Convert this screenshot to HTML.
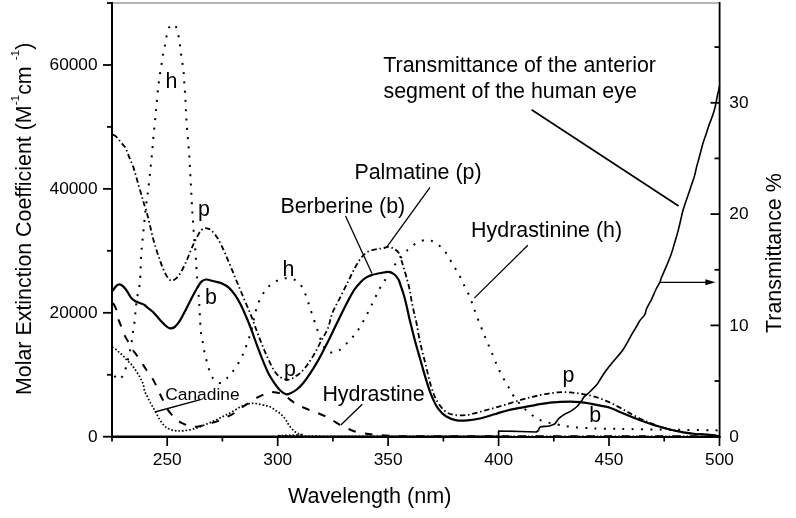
<!DOCTYPE html><html><head><meta charset="utf-8"><style>html,body{margin:0;padding:0;background:#fff;}svg{display:block;}text{font-family:'Liberation Sans', Arial, sans-serif;fill:#000;}</style></head><body>
<svg width="796" height="518" viewBox="0 0 796 518">
<rect width="796" height="518" fill="#fff"/>
<line x1="113" y1="3" x2="718.5" y2="3" stroke="#b5b5b5" stroke-width="2"/>
<g stroke="#000" stroke-width="2" fill="none">
<line x1="112" y1="2" x2="112" y2="437.9"/>
<line x1="111" y1="436.9" x2="720.5" y2="436.9"/>
<line x1="719.6" y1="2" x2="719.6" y2="437.9" stroke-width="1.8"/>
<line x1="103.0" y1="436.7" x2="112" y2="436.7" stroke-width="1.8"/>
<line x1="107.0" y1="374.8" x2="112" y2="374.8" stroke-width="1.8"/>
<line x1="103.0" y1="312.8" x2="112" y2="312.8" stroke-width="1.8"/>
<line x1="107.0" y1="250.8" x2="112" y2="250.8" stroke-width="1.8"/>
<line x1="103.0" y1="188.9" x2="112" y2="188.9" stroke-width="1.8"/>
<line x1="107.0" y1="126.9" x2="112" y2="126.9" stroke-width="1.8"/>
<line x1="103.0" y1="65.0" x2="112" y2="65.0" stroke-width="1.8"/>
<line x1="107.0" y1="3.0" x2="112" y2="3.0" stroke-width="1.8"/>
<line x1="112.0" y1="437" x2="112.0" y2="441.5" stroke-width="1.7"/>
<line x1="167.2" y1="437" x2="167.2" y2="446.0" stroke-width="1.7"/>
<line x1="222.4" y1="437" x2="222.4" y2="441.5" stroke-width="1.7"/>
<line x1="277.7" y1="437" x2="277.7" y2="446.0" stroke-width="1.7"/>
<line x1="332.9" y1="437" x2="332.9" y2="441.5" stroke-width="1.7"/>
<line x1="388.1" y1="437" x2="388.1" y2="446.0" stroke-width="1.7"/>
<line x1="443.4" y1="437" x2="443.4" y2="441.5" stroke-width="1.7"/>
<line x1="498.6" y1="437" x2="498.6" y2="446.0" stroke-width="1.7"/>
<line x1="553.8" y1="437" x2="553.8" y2="441.5" stroke-width="1.7"/>
<line x1="609.0" y1="437" x2="609.0" y2="446.0" stroke-width="1.7"/>
<line x1="664.2" y1="437" x2="664.2" y2="441.5" stroke-width="1.7"/>
<line x1="719.5" y1="437" x2="719.5" y2="446.0" stroke-width="1.7"/>
<line x1="710.5" y1="436.7" x2="719.5" y2="436.7" stroke-width="1.8"/>
<line x1="714.5" y1="381.0" x2="719.5" y2="381.0" stroke-width="1.8"/>
<line x1="710.5" y1="325.4" x2="719.5" y2="325.4" stroke-width="1.8"/>
<line x1="714.5" y1="269.8" x2="719.5" y2="269.8" stroke-width="1.8"/>
<line x1="710.5" y1="214.1" x2="719.5" y2="214.1" stroke-width="1.8"/>
<line x1="714.5" y1="158.4" x2="719.5" y2="158.4" stroke-width="1.8"/>
<line x1="710.5" y1="102.8" x2="719.5" y2="102.8" stroke-width="1.8"/>
<line x1="714.5" y1="47.1" x2="719.5" y2="47.1" stroke-width="1.8"/>
</g>
<g fill="none" stroke="#000" stroke-linejoin="round">
<path d="M112.0 436.3 L498.6 436.3 L498.6 431.0 L520.0 431.5 L536.3 432.0 L538.5 430.5" stroke-width="1.7"/>
<path d="M538.5 430.5 C538.8 429.9 538.8 427.7 540.3 427.0 C541.8 426.3 545.5 426.5 547.5 426.2 C549.5 425.9 550.8 425.4 552.0 425.0 C553.2 424.6 553.9 424.7 555.0 423.6 C556.1 422.5 557.6 419.8 558.8 418.5 C560.0 417.2 561.0 416.8 562.0 416.0 C563.0 415.2 563.5 414.9 565.0 414.0 C566.5 413.1 569.3 412.1 571.3 410.9 C573.3 409.6 575.5 407.9 577.0 406.5 C578.5 405.1 579.3 403.8 580.1 402.7 C580.9 401.6 581.3 401.2 582.0 400.2 C582.7 399.1 583.5 397.4 584.5 396.4 C585.5 395.3 586.6 394.9 587.7 393.9 C588.9 392.9 589.9 391.7 591.4 390.2 C592.9 388.7 595.0 386.9 596.5 385.1 C598.0 383.3 598.6 381.9 600.1 379.5 C601.6 377.1 603.8 373.7 605.7 371.0 C607.6 368.3 609.7 365.7 611.6 363.4 C613.5 361.1 615.1 359.5 617.0 357.2 C618.9 354.9 621.4 352.1 623.2 349.5 C625.0 346.9 626.2 344.4 627.8 341.7 C629.3 339.0 631.0 335.9 632.5 333.2 C634.0 330.5 635.8 327.7 637.1 325.5 C638.4 323.3 638.9 321.9 640.2 320.1 C641.5 318.3 643.8 316.5 644.8 314.7 C645.8 312.9 645.6 311.2 646.4 309.3 C647.2 307.4 648.6 304.7 649.5 303.1 C650.4 301.5 650.4 301.8 651.5 299.5 C652.6 297.2 654.5 292.4 655.9 289.5 C657.3 286.6 659.0 284.0 659.9 282.1 C660.8 280.2 660.2 280.5 661.3 277.9 C662.4 275.3 664.7 270.2 666.3 266.4 C667.9 262.5 669.6 258.7 671.0 254.8 C672.4 250.9 673.4 247.1 674.5 243.2 C675.6 239.3 676.9 235.5 677.9 231.6 C678.9 227.7 679.9 223.6 680.7 220.0 C681.6 216.4 682.1 213.4 683.0 210.3 C683.9 207.2 684.9 204.5 685.9 201.6 C686.9 198.7 687.8 195.9 688.8 193.0 C689.8 190.1 690.7 187.2 691.7 184.3 C692.7 181.4 693.8 178.5 694.6 175.6 C695.4 172.7 695.9 169.8 696.6 166.9 C697.3 164.0 698.2 161.1 699.0 158.2 C699.8 155.3 700.6 152.1 701.3 149.5 C702.0 146.9 702.4 145.3 703.2 142.6 C704.0 139.9 705.3 136.5 706.3 133.4 C707.3 130.3 708.3 127.2 709.4 124.1 C710.5 121.0 711.9 117.9 712.9 114.8 C713.9 111.7 714.8 108.5 715.5 105.5 C716.2 102.5 716.6 99.6 717.1 97.0 C717.6 94.4 718.3 91.9 718.7 90.1 C719.1 88.3 719.4 86.7 719.5 86.0" stroke-width="1.6"/>
<path d="M112.7 290.8 C113.3 290.0 115.0 287.2 116.1 286.1 C117.2 285.0 118.4 284.3 119.5 284.3 C120.6 284.3 121.7 285.0 122.9 286.1 C124.1 287.2 125.6 288.9 126.9 290.8 C128.2 292.7 129.7 295.9 131.0 297.6 C132.3 299.3 133.4 300.1 135.0 301.0 C136.6 301.9 138.8 302.5 140.4 303.2 C142.0 303.9 143.2 304.2 144.5 305.0 C145.8 305.8 146.7 306.9 148.0 308.0 C149.3 309.1 150.4 309.5 152.5 311.5 C154.6 313.5 158.1 317.8 160.3 320.2 C162.6 322.6 164.4 324.6 166.0 326.0 C167.6 327.4 168.5 328.1 169.9 328.3 C171.3 328.5 173.1 328.2 174.7 327.0 C176.3 325.8 177.8 323.9 179.6 321.2 C181.4 318.4 183.5 314.2 185.4 310.5 C187.3 306.8 189.3 302.7 191.2 299.0 C193.1 295.3 195.3 291.2 197.0 288.3 C198.7 285.4 200.0 283.1 201.5 281.6 C203.0 280.1 203.7 279.6 205.8 279.5 C207.9 279.4 211.2 280.6 213.9 281.3 C216.6 282.0 219.5 282.4 222.0 283.5 C224.5 284.6 226.6 285.6 228.8 287.6 C231.1 289.6 233.5 292.8 235.5 295.7 C237.5 298.6 239.1 301.5 240.9 305.1 C242.7 308.7 244.6 313.2 246.4 317.3 C248.2 321.4 250.1 326.3 251.5 330.0 C252.9 333.7 253.7 336.1 254.9 339.5 C256.1 342.9 257.4 346.5 258.9 350.3 C260.3 354.1 261.9 358.3 263.6 362.4 C265.3 366.4 267.1 371.0 269.0 374.6 C270.9 378.2 273.2 381.4 275.1 384.1 C277.0 386.8 278.7 389.1 280.5 390.8 C282.3 392.5 284.4 393.8 286.0 394.2 C287.6 394.6 288.2 394.3 290.0 393.5 C291.8 392.7 294.6 391.3 296.8 389.5 C299.1 387.7 301.2 385.4 303.5 382.7 C305.8 380.0 308.1 376.6 310.3 373.2 C312.6 369.8 314.8 366.2 317.0 362.4 C319.2 358.6 321.1 354.8 323.4 350.5 C325.6 346.2 327.9 341.9 330.5 336.5 C333.1 331.1 336.4 324.1 339.2 318.4 C342.0 312.7 344.8 306.9 347.3 302.2 C349.8 297.5 351.9 293.4 354.1 290.0 C356.4 286.6 358.8 284.0 360.8 281.9 C362.8 279.8 364.2 278.7 366.0 277.6 C367.8 276.5 369.1 275.9 371.6 275.1 C374.1 274.3 378.3 273.5 381.1 273.0 C383.9 272.5 386.3 271.6 388.5 271.9 C390.7 272.1 392.8 273.2 394.5 274.5 C396.2 275.8 397.5 277.8 398.6 279.8 C399.7 281.8 400.1 283.9 401.0 286.5 C401.9 289.1 402.9 291.8 403.9 295.2 C404.9 298.6 405.9 302.8 406.8 306.8 C407.8 310.8 408.2 313.8 409.6 319.4 C411.0 325.0 413.1 333.8 414.9 340.5 C416.7 347.2 418.5 353.2 420.3 359.5 C422.1 365.8 423.9 372.5 425.7 378.4 C427.5 384.2 429.1 389.7 431.1 394.6 C433.1 399.6 435.3 404.5 437.8 408.1 C440.3 411.7 442.7 414.2 445.9 416.2 C449.1 418.2 453.2 419.6 456.8 420.3 C460.4 421.0 463.6 420.7 467.6 420.3 C471.7 419.9 476.6 419.2 481.1 418.2 C485.6 417.2 490.1 415.5 494.6 414.2 C499.1 412.9 503.6 411.3 508.1 410.2 C512.6 409.1 517.5 408.4 521.6 407.6 C525.7 406.8 529.5 406.2 532.6 405.6 C535.7 405.0 537.1 404.6 540.0 404.1 C542.9 403.6 546.7 403.0 550.0 402.6 C553.3 402.2 556.6 402.1 560.0 401.9 C563.4 401.7 566.8 401.6 570.2 401.6 C573.6 401.6 576.9 401.8 580.3 402.1 C583.6 402.4 586.9 403.0 590.3 403.6 C593.6 404.2 597.1 404.9 600.4 405.6 C603.7 406.3 606.6 406.7 610.0 407.8 C613.4 408.9 616.6 410.7 620.5 412.3 C624.4 413.9 628.9 415.9 633.1 417.5 C637.3 419.1 641.4 420.7 645.6 422.2 C649.8 423.7 654.0 425.0 658.2 426.3 C662.4 427.6 666.6 428.8 670.8 429.8 C675.0 430.8 679.1 431.6 683.3 432.3 C687.5 433.0 691.4 433.6 695.9 434.0 C700.4 434.4 706.1 434.5 710.0 434.9 C713.9 435.3 717.5 436.0 719.0 436.2" stroke-width="2.2"/>
<path d="M112.3 134.3 C112.8 134.6 114.0 135.1 115.0 135.8 C116.0 136.5 117.1 137.6 118.1 138.7 C119.1 139.8 119.8 141.0 121.0 142.5 C122.2 144.0 124.3 145.8 125.4 147.6 C126.5 149.4 127.0 151.5 127.8 153.6 C128.6 155.7 129.5 157.8 130.4 160.0 C131.3 162.2 132.2 163.9 133.2 166.6 C134.1 169.3 135.1 172.9 136.1 176.3 C137.1 179.7 138.0 183.5 139.0 186.9 C140.0 190.3 141.1 193.7 141.9 196.5 C142.7 199.3 143.1 200.9 143.9 203.5 C144.7 206.1 145.8 208.8 146.7 212.2 C147.6 215.6 148.6 219.8 149.6 223.8 C150.6 227.8 151.4 232.0 152.5 236.3 C153.6 240.6 155.1 245.6 156.4 249.8 C157.7 254.0 159.0 257.8 160.3 261.4 C161.6 264.9 162.8 268.4 164.1 271.1 C165.4 273.8 166.7 276.2 168.0 277.8 C169.3 279.4 170.4 280.7 171.8 280.7 C173.2 280.7 175.1 279.4 176.7 277.8 C178.3 276.2 179.9 273.8 181.5 271.1 C183.1 268.4 184.9 264.6 186.3 261.4 C187.8 258.2 188.9 254.9 190.2 251.8 C191.5 248.8 192.7 245.8 194.0 243.1 C195.3 240.4 196.7 237.5 197.9 235.4 C199.1 233.3 199.9 231.7 201.0 230.5 C202.1 229.3 203.3 228.6 204.5 228.3 C205.7 228.0 206.8 228.2 208.0 228.6 C209.2 229.0 209.8 228.8 211.5 230.5 C213.2 232.2 215.8 235.2 218.0 238.9 C220.2 242.6 222.4 247.4 224.7 252.4 C226.9 257.4 229.2 263.2 231.5 268.6 C233.8 274.0 235.9 279.5 238.2 284.9 C240.4 290.3 242.7 295.7 245.0 301.1 C247.3 306.5 249.8 312.2 251.8 317.3 C253.8 322.4 255.3 327.0 256.9 331.4 C258.5 335.8 260.0 339.6 261.6 343.5 C263.2 347.4 264.7 351.2 266.4 355.0 C268.1 358.8 270.0 363.2 271.8 366.5 C273.6 369.8 275.3 372.6 277.2 374.6 C279.1 376.6 281.3 377.8 283.2 378.6 C285.1 379.5 286.8 379.9 288.6 379.7 C290.4 379.5 292.1 378.5 294.1 377.3 C296.1 376.1 298.6 374.6 300.8 372.5 C303.1 370.4 305.4 367.6 307.6 364.5 C309.9 361.4 312.1 357.9 314.3 354.0 C316.6 350.1 318.9 345.2 321.1 341.0 C323.4 336.8 325.9 333.2 327.8 328.5 C329.7 323.8 330.3 318.3 332.4 313.0 C334.5 307.7 337.8 302.2 340.5 296.8 C343.2 291.4 346.1 285.5 348.6 280.5 C351.1 275.5 353.2 270.9 355.4 267.0 C357.6 263.1 359.6 259.6 361.8 257.0 C364.1 254.4 366.3 252.5 368.9 251.2 C371.5 249.9 374.9 249.5 377.3 249.0 C379.7 248.5 381.2 248.8 383.0 248.4 C384.8 248.0 386.3 246.8 388.0 246.8 C389.7 246.8 391.5 247.5 393.3 248.5 C395.1 249.5 397.2 250.6 398.6 252.7 C400.0 254.8 400.7 258.4 401.6 261.0 C402.5 263.6 403.0 265.6 403.9 268.5 C404.8 271.4 405.9 275.0 406.8 278.5 C407.8 282.0 408.8 285.8 409.6 289.5 C410.4 293.2 410.8 296.8 411.6 301.0 C412.4 305.2 413.7 311.1 414.5 314.5 C415.3 317.9 415.2 316.8 416.2 321.6 C417.2 326.4 418.7 336.0 420.3 343.2 C421.9 350.4 423.9 357.7 425.7 364.9 C427.5 372.1 429.3 380.6 431.1 386.5 C432.9 392.4 434.2 395.9 436.5 400.0 C438.8 404.1 441.7 408.3 444.6 410.8 C447.5 413.3 450.3 414.2 454.1 414.9 C457.9 415.6 463.1 415.5 467.6 414.9 C472.1 414.3 476.6 412.7 481.1 411.5 C485.6 410.3 490.1 409.1 494.6 407.8 C499.1 406.5 503.6 405.2 508.1 403.8 C512.6 402.4 517.5 400.8 521.6 399.6 C525.7 398.4 528.7 397.7 532.6 396.8 C536.5 395.9 540.9 394.9 545.1 394.2 C549.3 393.5 553.5 392.7 557.7 392.4 C561.9 392.1 566.1 392.1 570.3 392.4 C574.5 392.7 578.6 393.4 582.8 394.1 C587.0 394.9 591.2 395.6 595.4 396.9 C599.6 398.2 603.7 399.9 607.9 401.7 C612.1 403.5 616.3 405.7 620.5 407.9 C624.7 410.1 628.9 412.8 633.1 415.0 C637.3 417.2 641.4 419.2 645.6 421.0 C649.8 422.8 654.0 424.5 658.2 426.0 C662.4 427.5 666.6 428.8 670.8 429.8 C675.0 430.9 679.1 431.6 683.3 432.3 C687.5 433.0 691.4 433.6 695.9 434.0 C700.4 434.4 706.1 434.5 710.0 434.9 C713.9 435.3 717.5 436.0 719.0 436.2" stroke-width="1.8" stroke-dasharray="5.4 2.75 1.5 2.8" stroke-dashoffset="11.53"/>
<path d="M112.0 369.5 C112.5 370.7 114.0 374.8 115.0 376.5 C116.0 378.2 117.2 379.3 118.3 379.5 C119.4 379.7 120.5 378.6 121.5 377.5 C122.5 376.4 123.3 375.2 124.2 372.9 C125.1 370.6 126.3 366.6 127.1 363.6 C127.9 360.6 128.3 357.8 129.0 354.9 C129.7 352.0 130.4 349.3 131.0 346.2 C131.6 343.1 132.0 339.5 132.4 336.4 C132.8 333.2 133.3 330.3 133.7 327.3 C134.1 324.3 134.7 321.6 135.0 318.5 C135.3 315.4 135.4 311.8 135.7 309.0 C136.0 306.2 136.2 304.5 136.6 301.6 C137.0 298.7 137.6 294.8 138.2 291.5 C138.8 288.2 139.5 287.9 140.0 281.6 C140.5 275.3 140.8 261.2 141.3 253.7 C141.8 246.1 142.3 242.4 142.9 236.3 C143.5 230.2 144.2 222.9 144.8 217.0 C145.4 211.1 146.1 205.3 146.7 200.6 C147.3 195.9 147.7 193.7 148.3 188.8 C148.9 183.9 149.6 177.2 150.2 171.4 C150.8 165.6 151.4 159.9 152.0 154.0 C152.6 148.1 152.9 141.8 153.5 135.7 C154.1 129.6 154.9 122.5 155.4 117.4 C155.9 112.3 156.1 109.3 156.5 105.0 C156.9 100.7 157.3 95.7 157.7 91.8 C158.1 87.9 158.5 85.0 158.9 81.8 C159.3 78.6 159.7 75.8 160.2 72.7 C160.7 69.6 161.2 66.4 161.7 63.3 C162.2 60.2 162.5 57.3 163.1 54.3 C163.7 51.3 164.4 48.1 165.0 45.1 C165.6 42.1 165.9 39.0 166.6 36.0 C167.3 33.0 168.4 28.9 169.4 27.0 C170.4 25.1 171.5 24.9 172.6 24.8 C173.7 24.7 174.8 24.8 175.8 26.6 C176.8 28.4 177.7 32.4 178.4 35.4 C179.1 38.4 179.5 41.6 179.9 44.7 C180.3 47.8 180.6 50.6 181.0 53.8 C181.4 57.0 182.1 60.6 182.5 63.7 C182.9 66.8 183.3 69.2 183.6 72.2 C183.9 75.2 184.0 78.6 184.2 81.8 C184.4 85.0 184.7 88.2 184.9 91.4 C185.1 94.6 185.3 96.4 185.5 100.9 C185.7 105.4 185.9 112.3 186.3 118.3 C186.7 124.3 187.2 130.8 187.7 136.7 C188.2 142.6 188.8 148.1 189.2 154.0 C189.6 159.9 189.9 166.3 190.2 172.4 C190.5 178.5 190.9 184.7 191.2 190.7 C191.5 196.7 191.8 203.1 192.1 208.3 C192.4 213.5 192.8 217.2 193.1 221.9 C193.4 226.6 193.6 231.3 194.0 236.3 C194.4 241.3 195.0 246.7 195.4 251.8 C195.8 256.9 196.1 262.4 196.4 267.2 C196.7 272.0 197.0 276.6 197.3 280.7 C197.6 284.8 198.0 288.1 198.3 292.0 C198.6 295.9 198.9 297.8 199.3 304.0 C199.7 310.2 200.1 322.9 200.6 329.0 C201.1 335.1 201.8 336.6 202.5 340.5 C203.2 344.4 203.7 348.2 204.5 352.1 C205.3 356.0 206.3 359.8 207.4 363.7 C208.5 367.6 209.8 372.3 211.2 375.3 C212.6 378.3 214.5 380.2 216.1 381.5 C217.7 382.8 219.3 383.4 220.9 383.0 C222.5 382.6 224.1 380.6 225.7 379.2 C227.3 377.8 228.7 376.4 230.5 374.3 C232.3 372.2 234.5 369.4 236.3 366.6 C238.1 363.8 239.9 360.8 241.4 357.7 C242.9 354.6 244.2 351.3 245.4 348.2 C246.6 345.1 247.7 342.2 248.8 338.8 C249.9 335.4 250.6 333.5 252.0 328.0 C253.4 322.5 255.0 312.3 257.2 306.0 C259.4 299.7 262.6 294.1 265.3 290.3 C268.0 286.5 270.7 284.9 273.4 283.0 C276.1 281.1 279.2 279.6 281.5 278.8 C283.8 278.0 285.2 278.2 287.0 278.2 C288.8 278.2 290.7 278.2 292.5 278.8 C294.3 279.4 296.1 280.4 297.7 281.8 C299.3 283.2 300.7 284.9 302.0 287.0 C303.3 289.1 303.9 290.2 305.4 294.1 C306.9 298.0 309.0 304.9 310.8 310.3 C312.6 315.7 314.7 322.1 316.2 326.5 C317.7 330.9 318.6 333.7 319.7 336.8 C320.8 339.9 321.6 342.7 322.8 345.0 C324.0 347.3 325.5 349.2 327.0 350.5 C328.5 351.8 329.9 352.6 332.0 352.6 C334.1 352.6 336.5 352.2 339.3 350.3 C342.1 348.4 345.7 344.5 348.6 341.4 C351.5 338.3 354.1 335.7 356.8 331.9 C359.5 328.1 362.2 323.3 364.9 318.4 C367.6 313.4 370.5 307.2 373.0 302.2 C375.5 297.2 377.4 292.7 379.7 288.6 C381.9 284.5 384.2 281.4 386.5 277.8 C388.8 274.2 390.9 270.3 393.2 267.0 C395.5 263.7 398.1 260.9 400.5 258.0 C402.9 255.2 405.1 252.4 407.7 249.9 C410.3 247.4 413.3 244.9 416.4 243.2 C419.4 241.5 422.9 240.0 426.0 239.9 C429.1 239.8 431.9 240.8 434.8 242.4 C437.7 244.0 440.9 246.7 443.5 249.6 C446.1 252.5 448.2 256.6 450.3 260.0 C452.4 263.4 454.3 266.7 456.1 269.8 C457.9 272.9 459.4 275.5 460.9 278.4 C462.4 281.3 463.5 284.1 464.9 287.0 C466.3 289.9 468.1 292.8 469.4 295.8 C470.7 298.9 471.8 302.1 472.9 305.3 C474.0 308.5 474.6 310.4 476.3 314.9 C478.0 319.4 481.4 327.9 483.2 332.3 C485.0 336.8 485.7 338.6 487.0 341.6 C488.3 344.6 489.5 347.2 490.8 350.3 C492.1 353.4 493.4 356.8 494.7 359.9 C496.0 363.0 497.2 366.0 498.6 369.0 C500.0 372.0 501.5 374.8 503.2 377.9 C504.9 380.9 506.8 384.2 508.6 387.3 C510.4 390.4 511.9 393.6 514.0 396.6 C516.1 399.6 518.6 402.5 521.2 405.3 C523.8 408.1 526.9 411.1 529.8 413.4 C532.7 415.7 535.6 417.7 538.5 419.2 C541.4 420.7 544.0 421.4 547.2 422.3 C550.4 423.2 554.4 423.9 557.6 424.5 C560.8 425.1 563.5 425.7 566.4 426.2 C569.3 426.7 572.2 427.0 575.2 427.3 C578.2 427.6 581.5 427.7 584.6 427.9 C587.7 428.1 589.5 428.2 594.0 428.4 C598.5 428.5 605.5 428.7 611.6 428.8 C617.7 428.9 622.8 429.0 630.5 429.1 C638.2 429.2 648.5 429.4 657.7 429.5 C666.9 429.6 675.4 429.8 685.5 429.9 C695.6 430.0 713.0 430.3 718.5 430.4" stroke-width="2" stroke-dasharray="2 7.3" stroke-dashoffset="2.7"/>
<path d="M112.5 302.0 C113.1 303.2 115.2 306.2 116.1 309.0 C117.0 311.8 117.3 315.8 118.1 318.5 C118.9 321.2 119.9 322.8 120.8 325.3 C121.7 327.8 122.6 331.2 123.7 333.7 C124.8 336.2 125.8 337.5 127.2 340.1 C128.7 342.7 130.8 346.7 132.4 349.3 C134.0 351.9 135.3 353.2 137.0 355.7 C138.7 358.2 141.1 361.8 142.8 364.4 C144.5 367.0 145.8 368.9 147.4 371.3 C149.1 373.7 151.2 376.4 152.7 378.9 C154.2 381.3 155.2 383.4 156.4 386.0 C157.7 388.6 159.0 392.0 160.2 394.5 C161.3 397.0 162.1 398.3 163.3 400.8 C164.6 403.3 166.0 407.0 167.7 409.6 C169.4 412.2 171.7 414.7 173.3 416.5 C174.9 418.3 176.1 419.2 177.5 420.3 C178.9 421.4 179.9 422.0 181.5 422.8 C183.1 423.6 185.6 424.7 187.3 425.3 C189.1 425.9 190.4 426.1 192.0 426.3 C193.6 426.5 195.0 426.9 197.0 426.7 C199.0 426.5 201.6 425.9 203.9 425.3 C206.2 424.7 208.5 423.9 210.8 423.2 C213.1 422.5 215.0 422.1 217.7 421.1 C220.3 420.1 224.0 418.3 226.7 417.0 C229.3 415.7 231.2 415.0 233.6 413.5 C236.0 412.0 238.5 409.6 241.2 407.8 C243.8 406.0 246.8 404.3 249.5 402.6 C252.2 400.9 255.2 398.8 257.6 397.4 C260.0 396.0 262.1 395.2 263.8 394.4 C265.5 393.6 266.6 393.2 268.0 392.8 C269.4 392.4 270.2 392.0 272.1 392.1 C274.1 392.2 277.3 392.5 279.7 393.3 C282.1 394.1 284.1 395.4 286.6 397.0 C289.1 398.6 292.4 401.6 294.9 403.2 C297.4 404.8 299.4 405.7 301.8 406.8 C304.2 407.9 306.8 409.0 309.4 410.0 C312.0 411.0 315.1 412.0 317.7 413.0 C320.3 414.0 322.4 414.9 325.0 416.2 C327.6 417.5 330.5 419.1 333.0 420.6 C335.5 422.1 337.5 423.6 340.1 425.0 C342.7 426.4 345.9 427.8 348.4 428.9 C350.9 430.0 352.4 430.8 355.0 431.5 C357.6 432.2 360.6 432.8 363.9 433.3 C367.2 433.9 369.0 434.3 375.0 434.8 C381.0 435.3 387.5 435.9 400.0 436.2 C412.5 436.4 433.3 436.3 450.0 436.3 C466.7 436.3 455.2 436.3 500.0 436.3 C544.8 436.3 682.5 436.3 719.0 436.3" stroke-width="2" stroke-dasharray="7.8 9.3" stroke-dashoffset="15.78"/>
<path d="M112.2 347.0 C113.0 347.5 115.5 348.9 116.7 349.9 C117.9 350.9 118.5 351.8 119.6 352.8 C120.7 353.8 122.0 354.6 123.1 355.7 C124.2 356.8 124.9 358.0 126.0 359.2 C127.1 360.4 128.4 361.6 129.5 362.7 C130.6 363.8 131.5 364.6 132.4 365.6 C133.3 366.7 133.9 367.9 134.7 369.0 C135.5 370.1 136.2 371.3 137.0 372.5 C137.8 373.7 138.6 374.8 139.3 376.0 C140.0 377.2 140.5 378.5 141.2 379.8 C141.8 381.1 142.6 382.1 143.2 384.0 C143.8 385.9 143.9 388.8 144.6 391.0 C145.3 393.2 146.6 394.9 147.6 397.0 C148.6 399.1 149.6 401.3 150.7 403.3 C151.8 405.3 152.8 407.0 153.9 408.9 C155.0 410.8 155.9 412.7 157.0 414.6 C158.1 416.5 159.0 418.5 160.2 420.3 C161.3 422.1 162.7 424.0 163.9 425.3 C165.2 426.6 166.2 427.6 167.7 428.4 C169.2 429.2 171.0 429.9 172.7 430.3 C174.4 430.7 175.9 430.8 177.7 430.9 C179.4 431.0 180.9 431.1 183.2 430.8 C185.5 430.6 189.0 430.0 191.5 429.4 C194.0 428.8 196.1 428.2 198.4 427.4 C200.7 426.6 203.0 425.5 205.3 424.6 C207.6 423.7 209.9 422.8 212.2 421.8 C214.5 420.8 216.8 419.5 219.1 418.4 C221.4 417.2 223.7 416.1 226.0 414.9 C228.3 413.7 230.6 412.6 232.9 411.3 C235.2 410.0 237.5 408.5 239.8 407.3 C242.1 406.1 244.6 405.0 246.7 404.3 C248.8 403.6 250.5 403.3 252.5 403.3 C254.5 403.3 256.7 403.7 258.9 404.1 C261.1 404.5 264.2 405.2 265.9 405.6 C267.6 406.0 267.8 405.9 268.9 406.3 C270.0 406.7 271.2 407.3 272.4 408.0 C273.6 408.7 274.8 409.9 275.9 410.7 C277.0 411.5 278.2 412.0 279.3 412.8 C280.4 413.6 281.4 414.7 282.4 415.7 C283.3 416.7 284.2 417.6 285.0 418.7 C285.8 419.8 286.5 420.9 287.2 422.0 C287.9 423.1 288.3 424.2 289.1 425.4 C289.9 426.5 291.0 427.8 292.0 428.9 C293.0 430.0 293.9 431.0 295.0 431.8 C296.1 432.6 297.2 433.2 298.5 433.7 C299.8 434.2 301.1 434.4 303.0 434.8 C304.9 435.2 240.7 435.9 310.0 436.2 C379.3 436.4 650.8 436.3 719.0 436.3" stroke-width="1.7" stroke-dasharray="1.6 2"/>
</g>
<g stroke="#000" stroke-width="1.3" fill="none">
<line x1="531.6" y1="109.8" x2="678.6" y2="206" stroke-width="1.7"/>
<line x1="430" y1="187.3" x2="386.9" y2="246.9"/>
<line x1="345.5" y1="216.1" x2="372" y2="273.5"/>
<line x1="527.8" y1="245.3" x2="474.3" y2="298.1"/>
<line x1="362.3" y1="404.3" x2="340.8" y2="425"/>
<line x1="154.8" y1="412" x2="200.4" y2="399.7"/>
<line x1="660" y1="282.3" x2="708" y2="282.3"/>
</g>
<path d="M715.5 282.3 L705.4 279.3 L705.4 285.3 Z" fill="#000"/>
<text x="383.3" y="72.0" font-size="21.4" text-anchor="start">Transmittance of the anterior</text>
<text x="383.5" y="98.1" font-size="21.4" text-anchor="start">segment of the human eye</text>
<text x="354.4" y="178.9" font-size="21.4" text-anchor="start">Palmatine (p)</text>
<text x="280.4" y="212.5" font-size="21.4" text-anchor="start">Berberine (b)</text>
<text x="471.1" y="237.1" font-size="21.4" text-anchor="start">Hydrastinine (h)</text>
<text x="322.4" y="400.6" font-size="21.4" text-anchor="start">Hydrastine</text>
<text x="165.2" y="399.9" font-size="17.4" text-anchor="start">Canadine</text>
<text x="165.6" y="87.8" font-size="21.4" text-anchor="start">h</text>
<text x="197.9" y="215.8" font-size="21.4" text-anchor="start">p</text>
<text x="205.0" y="303.6" font-size="21.4" text-anchor="start">b</text>
<text x="282.5" y="275.9" font-size="21.4" text-anchor="start">h</text>
<text x="283.9" y="375.9" font-size="21.4" text-anchor="start">p</text>
<text x="562.6" y="382.4" font-size="21.4" text-anchor="start">p</text>
<text x="589.3" y="421.8" font-size="21.4" text-anchor="start">b</text>
<text x="97.6" y="442.0" font-size="17.3" text-anchor="end">0</text>
<text x="97.6" y="318.1" font-size="17.3" text-anchor="end">20000</text>
<text x="97.6" y="194.2" font-size="17.3" text-anchor="end">40000</text>
<text x="97.6" y="70.3" font-size="17.3" text-anchor="end">60000</text>
<text x="167.2" y="464.8" font-size="17.3" text-anchor="middle">250</text>
<text x="277.7" y="464.8" font-size="17.3" text-anchor="middle">300</text>
<text x="388.1" y="464.8" font-size="17.3" text-anchor="middle">350</text>
<text x="498.6" y="464.8" font-size="17.3" text-anchor="middle">400</text>
<text x="609.0" y="464.8" font-size="17.3" text-anchor="middle">450</text>
<text x="719.5" y="464.8" font-size="17.3" text-anchor="middle">500</text>
<text x="729.3" y="442.0" font-size="17.3" text-anchor="start">0</text>
<text x="729.3" y="330.7" font-size="17.3" text-anchor="start">10</text>
<text x="729.3" y="219.4" font-size="17.3" text-anchor="start">20</text>
<text x="729.3" y="108.1" font-size="17.3" text-anchor="start">30</text>
<text x="287.9" y="503.4" font-size="21.6" text-anchor="start">Wavelength (nm)</text>
<text transform="translate(30.8,395.0) rotate(-90)" font-size="21.4">Molar Extinction Coefficient (M<tspan font-size="11.8" dy="-11.8">-1</tspan><tspan dy="11.8">cm </tspan><tspan font-size="11.8" dy="-11.8">-1</tspan><tspan dy="11.8">)</tspan></text>
<text transform="translate(780.6,333.0) rotate(-90)" font-size="21.4">Transmittance %</text>
</svg></body></html>
